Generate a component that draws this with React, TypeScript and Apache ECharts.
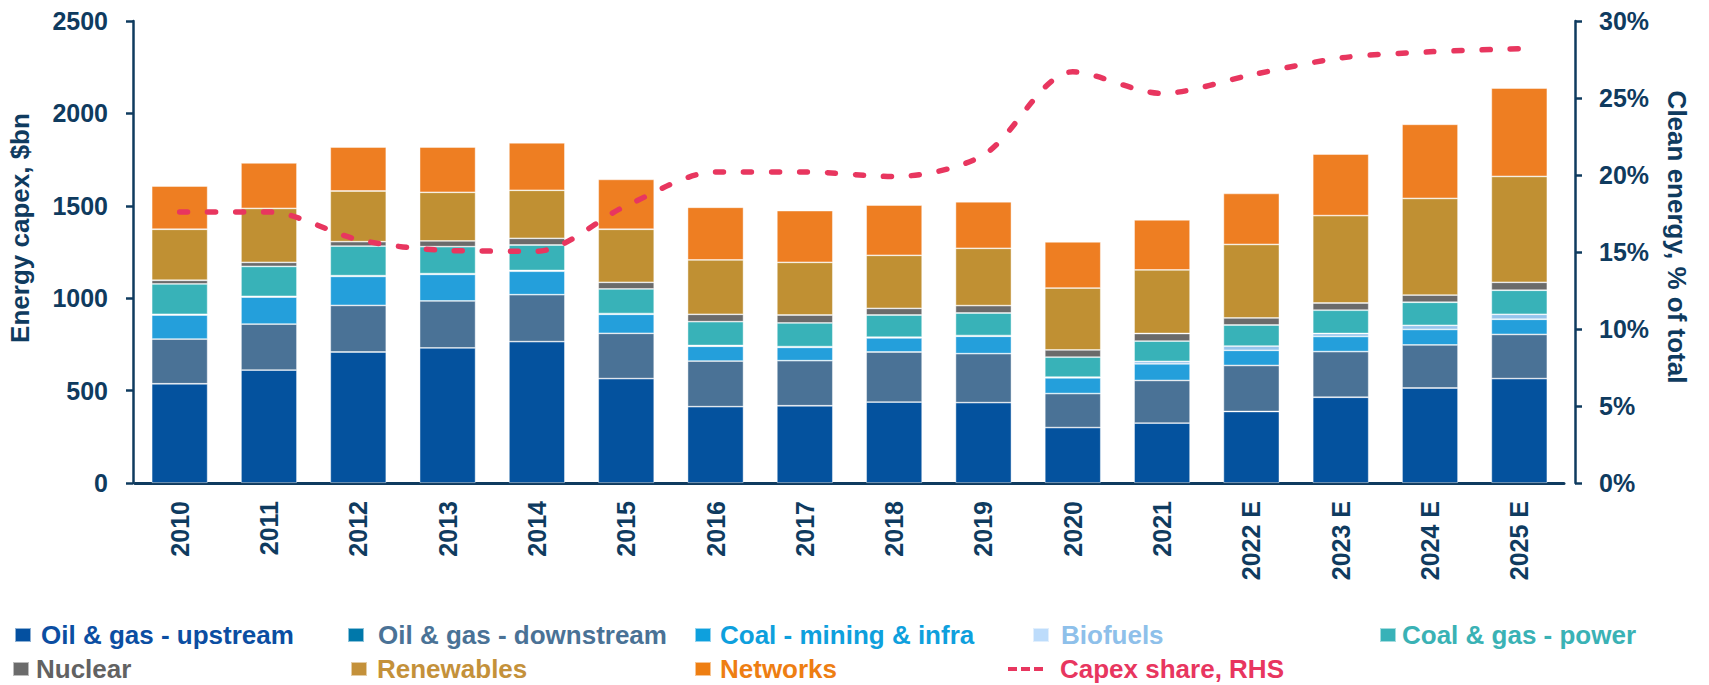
import React, { useEffect, useRef } from "react";
import * as echarts from "echarts";

const years = ["2010","2011","2012","2013","2014","2015","2016","2017","2018","2019","2020","2021","2022 E","2023 E","2024 E","2025 E"];
const upstream   = [537, 611, 709, 731, 765, 565, 413, 418, 438, 435, 300, 324, 387, 464, 514, 565];
const downstream = [242, 249, 252, 254, 254, 245, 247, 244, 271, 265, 184, 231, 249, 247, 233, 239];
const coalMining = [130, 146, 157, 144, 127, 103, 80, 72, 76, 94, 85, 90, 82, 82, 84, 82];
const biofuels   = [4, 4, 4, 4, 4, 4, 4, 4, 4, 4, 4, 13, 23, 16, 22, 27];
const coalGasPower = [164, 162, 160, 146, 138, 133, 129, 128, 120, 122, 108, 110, 114, 126, 125, 130];
const nuclear    = [20, 22, 24, 31, 36, 36, 40, 43, 36, 40, 39, 41, 38, 39, 39, 43];
const renewables = [276, 292, 274, 263, 260, 287, 294, 285, 287, 310, 335, 344, 398, 473, 523, 573];
const networks   = [234, 246, 238, 245, 257, 270, 285, 280, 272, 252, 250, 271, 276, 333, 401, 478];
const capexShare = [17.6, 17.6, 15.8, 15.1, 15.05, 18.0, 20.2, 20.2, 19.9, 21.3, 26.7, 25.3, 26.5, 27.6, 28.0, 28.2];
const leftTicks = { min: 0, max: 2500, interval: 500 };
const rightTicks = { min: 0, max: 30, interval: 5 };

const NAVY = "#0F3B5F";
const FONT = "'Liberation Sans', Arial, Helvetica, sans-serif";
const PINK = "#E8365F";

const barSeries = [
  { name: "Oil & gas - upstream", data: upstream, color: "#04529E", icon: "#0450A0", text: "#0B4EA2" },
  { name: "Oil & gas - downstream", data: downstream, color: "#4A7296", icon: "#0078AA", text: "#4A7296" },
  { name: "Coal - mining & infra", data: coalMining, color: "#249FDB", icon: "#0EA0DD", text: "#0EA0DD" },
  { name: "Biofuels", data: biofuels, color: "#94C4EC", icon: "#BDDCFB", text: "#8EC0EA" },
  { name: "Coal & gas - power", data: coalGasPower, color: "#38B2B8", icon: "#38B2B8", text: "#3AB2B5" },
  { name: "Nuclear", data: nuclear, color: "#6B6B6B", icon: "#6B6B6B", text: "#626262" },
  { name: "Renewables", data: renewables, color: "#C09033", icon: "#C4913A", text: "#C4913A" },
  { name: "Networks", data: networks, color: "#EE7E22", icon: "#EE7E12", text: "#EE7E12" },
];

// legend placement: [marker left, top, text pad]
const legendPlace: Record<string, [number, number, number]> = {
  "Oil & gas - upstream": [14, 622, 5],
  "Oil & gas - downstream": [347, 622, 9],
  "Coal - mining & infra": [694, 622, 4],
  "Biofuels": [1032, 622, 7],
  "Coal & gas - power": [1379, 622, 1],
  "Nuclear": [12, 656, 2],
  "Renewables": [350, 656, 5],
  "Networks": [694, 656, 4],
};

const DASH_ICON = "path://M0,0L9,0L9,4L0,4Z M13,0L22,0L22,4L13,4Z M26,0L35,0L35,4L26,4Z";

export default function App() {
  const ref = useRef<HTMLDivElement>(null);
  useEffect(() => {
    if (!ref.current) return;
    const chart = echarts.init(ref.current, null, { renderer: "svg" });
    const labelStyle = { fontSize: 25, fontWeight: "bold", color: NAVY, fontFamily: FONT };

    const legends: any[] = barSeries.map((s) => {
      const p = legendPlace[s.name];
      return {
        data: [{ name: s.name, itemStyle: { color: s.icon } }],
        left: p[0], top: p[1], padding: 0,
        itemWidth: 16, itemHeight: 14, icon: "rect", selectedMode: false,
        textStyle: { fontSize: 26, fontWeight: "bold", fontFamily: FONT, color: s.text, padding: [0, 0, 0, p[2]] },
      };
    });
    legends.push({
      data: [{ name: "Capex share, RHS", icon: DASH_ICON, itemStyle: { color: PINK, borderWidth: 0 } }],
      left: 1008, top: 656, padding: 0,
      itemWidth: 35, itemHeight: 4, selectedMode: false,
      textStyle: { fontSize: 26, fontWeight: "bold", fontFamily: FONT, color: PINK, padding: [0, 0, 0, 12] },
    });

    const series: any[] = barSeries.map((s) => ({
      name: s.name, type: "bar", stack: "total", data: s.data, barWidth: 56,
      itemStyle: { color: s.color, borderColor: "rgba(255,255,255,0.55)", borderWidth: 0.8 },
      yAxisIndex: 0,
    }));
    series.push({
      name: "Capex share, RHS", type: "line", yAxisIndex: 1, data: capexShare,
      symbol: "none", smooth: 0.3, z: 10,
      lineStyle: { color: PINK, width: 5.5, type: [8, 20], cap: "round" },
      itemStyle: { color: PINK },
    });

    chart.setOption({
      animation: false,
      grid: { left: 135, right: 145, top: 21, bottom: 202 },
      xAxis: {
        type: "category", data: years,
        axisLine: { lineStyle: { color: NAVY, width: 3 } },
        axisTick: { length: 8, lineStyle: { color: NAVY, width: 2.5 } },
        axisLabel: { ...labelStyle, rotate: 90, margin: 18, interval: 0 },
      },
      yAxis: [
        {
          type: "value", ...leftTicks, offset: 2,
          axisLine: { show: true, lineStyle: { color: NAVY, width: 2.5 } },
          axisTick: { show: true, length: 7, lineStyle: { color: NAVY, width: 2.5 } },
          splitLine: { show: false },
          axisLabel: { ...labelStyle, margin: 25, formatter: (v: number) => String(v) },
        },
        {
          type: "value", ...rightTicks, position: "right", offset: 11,
          axisLine: { show: true, lineStyle: { color: NAVY, width: 2.5 } },
          axisTick: { show: true, length: 7, lineStyle: { color: NAVY, width: 2.5 } },
          splitLine: { show: false },
          axisLabel: { ...labelStyle, margin: 24, formatter: "{value}%" },
        },
      ],
      legend: legends,
      series,
      graphic: [
        {
          type: "text", x: 20, y: 228, rotation: Math.PI / 2,
          style: { text: "Energy capex, $bn", fontSize: 26, fontWeight: "bold", fontFamily: FONT, fill: NAVY, align: "center", verticalAlign: "middle" },
        },
        {
          type: "text", x: 1677, y: 237, rotation: -Math.PI / 2,
          style: { text: "Clean energy, % of total", fontSize: 26, fontWeight: "bold", fontFamily: FONT, fill: NAVY, align: "center", verticalAlign: "middle" },
        },
      ],
    });
    return () => chart.dispose();
  }, []);
  return <div ref={ref} style={{ position: "absolute", left: 0, top: 0, width: 1709, height: 685 }} />;
}
